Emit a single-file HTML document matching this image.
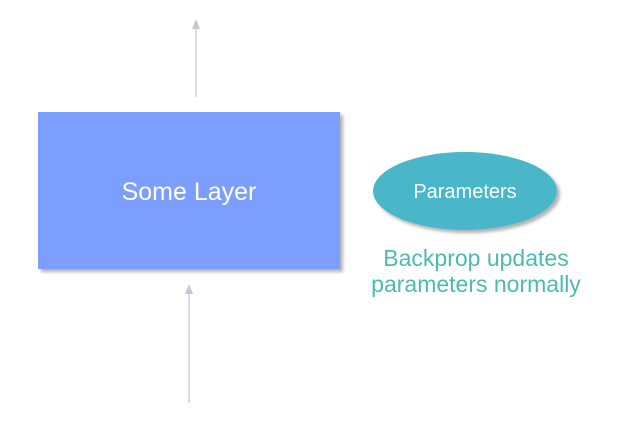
<!DOCTYPE html>
<html><head><style>body{margin:0;background:#fff}</style></head><body>
<svg width="631" height="434" xmlns="http://www.w3.org/2000/svg" style="display:block">
<defs><filter id="s" x="-10%" y="-10%" width="130%" height="130%"><feDropShadow dx="3" dy="3" stdDeviation="1.5" flood-color="#000" flood-opacity="0.3"/></filter></defs>
<line x1="196" y1="97" x2="196" y2="28" stroke="#c8c6d4" stroke-width="1.3"/>
<polygon points="196,19 192,29 200,29" fill="#c8c6d4"/>
<line x1="189" y1="403" x2="189" y2="293" stroke="#c8c6d4" stroke-width="1.3"/>
<polygon points="189,284 185,294 193,294" fill="#c8c6d4"/>
<rect x="38" y="112" width="302" height="157" fill="#7b9fff" filter="url(#s)"/>
<text x="189" y="200" text-anchor="middle" font-family="Liberation Sans, sans-serif" font-size="25" fill="#fff">Some Layer</text>
<ellipse cx="465" cy="191" rx="92" ry="39" fill="#4ab6c9" filter="url(#s)"/>
<text x="465" y="198" text-anchor="middle" font-family="Liberation Sans, sans-serif" font-size="20" fill="#fff">Parameters</text>
<text x="476" y="266" text-anchor="middle" font-family="Liberation Sans, sans-serif" font-size="23" fill="#4dbab0">Backprop updates</text>
<text x="476" y="292" text-anchor="middle" font-family="Liberation Sans, sans-serif" font-size="23" fill="#4dbab0">parameters normally</text>
</svg>
</body></html>
